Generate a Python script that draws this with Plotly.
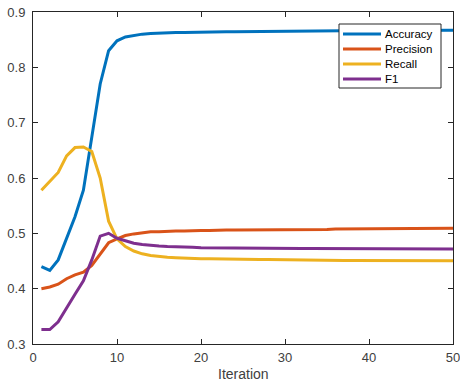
import plotly.graph_objects as go

iterations = list(range(1, 51))
accuracy = [0.440, 0.433, 0.452, 0.490, 0.530, 0.578, 0.670, 0.770, 0.830, 0.848,
            0.855, 0.858, 0.860, 0.861, 0.862, 0.862, 0.863, 0.863, 0.863, 0.864,
            0.864, 0.864, 0.8643, 0.8645, 0.8647, 0.865, 0.865, 0.8652, 0.8654, 0.8656,
            0.8657, 0.8658, 0.866, 0.866, 0.866, 0.866, 0.8662, 0.8663, 0.8664, 0.8665,
            0.8665, 0.8666, 0.8666, 0.8667, 0.8667, 0.8668, 0.8668, 0.8669, 0.8669, 0.867]
precision = [0.400, 0.403, 0.408, 0.418, 0.425, 0.430, 0.442, 0.462, 0.483, 0.490,
             0.496, 0.499, 0.501, 0.503, 0.503, 0.504, 0.504, 0.504, 0.505, 0.505,
             0.505, 0.506, 0.506, 0.506, 0.506, 0.506, 0.507, 0.507, 0.507, 0.507,
             0.507, 0.507, 0.507, 0.507, 0.507, 0.508, 0.508, 0.508, 0.508, 0.508,
             0.508, 0.508, 0.508, 0.508, 0.509, 0.509, 0.509, 0.509, 0.509, 0.509]
recall = [0.578, 0.594, 0.610, 0.640, 0.655, 0.656, 0.648, 0.600, 0.522, 0.490,
          0.476, 0.468, 0.463, 0.460, 0.458, 0.457, 0.456, 0.455, 0.455, 0.454,
          0.454, 0.454, 0.4538, 0.4535, 0.4532, 0.453, 0.4528, 0.4525, 0.4522, 0.452,
          0.4518, 0.4516, 0.4515, 0.4514, 0.4513, 0.4512, 0.4511, 0.451, 0.451, 0.451,
          0.4509, 0.4508, 0.4508, 0.4507, 0.4507, 0.4506, 0.4506, 0.4505, 0.4505, 0.4505]
f1 = [0.326, 0.326, 0.340, 0.366, 0.390, 0.414, 0.452, 0.495, 0.500, 0.491,
      0.486, 0.482, 0.480, 0.478, 0.477, 0.476, 0.476, 0.475, 0.475, 0.474,
      0.474, 0.4738, 0.4736, 0.4734, 0.4733, 0.4732, 0.4731, 0.473, 0.473, 0.4729,
      0.4728, 0.4727, 0.4726, 0.4725, 0.4724, 0.4723, 0.4722, 0.4722, 0.4721, 0.4721,
      0.472, 0.472, 0.472, 0.4719, 0.4719, 0.4718, 0.4718, 0.4718, 0.4717, 0.4717]

series_names = ["Accuracy", "Precision", "Recall", "F1"]
series_values = [accuracy, precision, recall, f1]
series_colors = ["#0072BD", "#D95319", "#EDB120", "#7E2F8E"]

fig = go.Figure()
for name, vals, color in zip(series_names, series_values, series_colors):
    fig.add_trace(go.Scatter(x=iterations, y=vals, mode="lines", name=name,
                             line=dict(color=color, width=3), showlegend=False))

axis_common = dict(showgrid=False, zeroline=False, showline=True, linecolor="#262626",
                   linewidth=1, mirror="ticks", ticks="inside", ticklen=5,
                   tickcolor="#262626", tickfont=dict(size=13, color="#404040"),
                   automargin=False, ticklabeloverflow="allow")

# plot area in pixels: x 33..453, y 12..344
W, H, L, T = 460, 382, 33, 12
PW, PH = 420, 332


def px(x):
    return (x - L) / PW


def py(y):
    return (T + PH - y) / PH


shapes = [dict(type="rect", xref="paper", yref="paper",
               x0=px(339), x1=px(441), y0=py(88), y1=py(24),
               line=dict(color="#262626", width=1), fillcolor="white", layer="above")]
annotations = []
row_y = [34, 49, 64, 79]
for name, color, ry in zip(series_names, series_colors, row_y):
    shapes.append(dict(type="line", xref="paper", yref="paper",
                       x0=px(343), x1=px(381), y0=py(ry), y1=py(ry),
                       line=dict(color=color, width=3), layer="above"))
    annotations.append(dict(text=name, xref="paper", yref="paper", x=px(383), y=py(ry),
                            xanchor="left", yanchor="middle", showarrow=False,
                            font=dict(size=11.5, color="#000000")))

annotations.append(dict(text="Iteration", x=0.5, xref="paper", y=py(374), yref="paper",
                        xanchor="center", yanchor="middle", showarrow=False,
                        font=dict(size=14, color="#404040")))

fig.update_layout(
    width=W, height=H,
    margin=dict(l=L, r=W - L - PW, t=T, b=H - T - PH),
    paper_bgcolor="white", plot_bgcolor="white",
    font=dict(family="Liberation Sans, Arial, sans-serif", color="#404040"),
    xaxis=dict(range=[0, 50], tickvals=[0, 10, 20, 30, 40, 50],
               ticklabelstandoff=1, **axis_common),
    yaxis=dict(range=[0.3, 0.9], tickvals=[0.3, 0.4, 0.5, 0.6, 0.7, 0.8, 0.9],
               tickformat=".1f", ticklabelstandoff=4, **axis_common),
    showlegend=False,
    shapes=shapes,
    annotations=annotations,
)

fig.write_html("out.html", config={"displayModeBar": False},
               post_script="document.body.style.margin='0';")
